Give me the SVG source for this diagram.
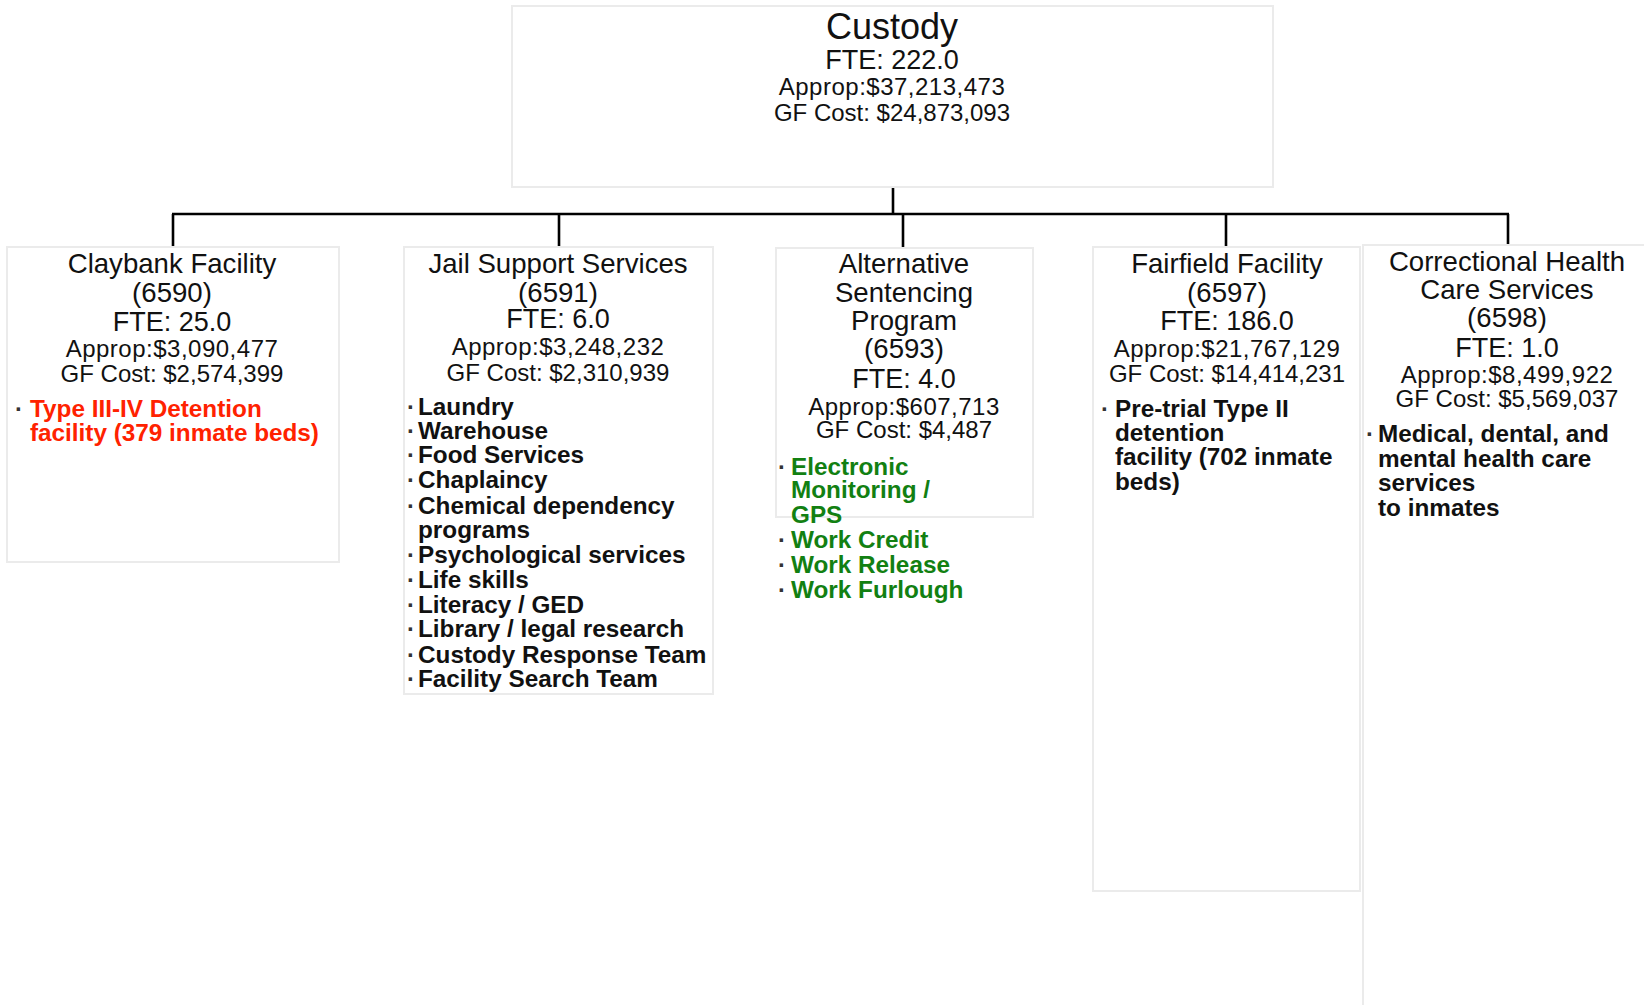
<svg xmlns="http://www.w3.org/2000/svg" width="1644" height="1005" viewBox="0 0 1644 1005">
<style>
  text { font-family: "Liberation Sans", Arial, sans-serif; fill: #111; }
  .box { fill: #ffffff; stroke: #ebebeb; stroke-width: 2; }
  .hd { font-size: 27.6px; text-anchor: middle; }
  .fte { font-size: 27px; text-anchor: middle; }
  .title { font-size: 36px; text-anchor: middle; }
  .money { font-size: 24px; text-anchor: middle; }
  .ap { letter-spacing: 0.5px; }
  .item { font-size: 24.3px; font-weight: bold; }
  .dot { font-size: 24px; font-weight: bold; fill: #333; }
  .red { fill: #ff2200; }
  .green { fill: #128012; }
  .conn { stroke: #000; stroke-width: 2.6; fill: none; }
</style>
<rect width="1644" height="1005" fill="#ffffff"/>

<g id="connectors">
  <line class="conn" x1="893" y1="186" x2="893" y2="214"/>
  <line class="conn" x1="172" y1="214" x2="1509" y2="214"/>
  <line class="conn" x1="173" y1="214" x2="173" y2="247"/>
  <line class="conn" x1="559" y1="214" x2="559" y2="247"/>
  <line class="conn" x1="903" y1="214" x2="903" y2="248"/>
  <line class="conn" x1="1226" y1="214" x2="1226" y2="247"/>
  <line class="conn" x1="1508" y1="214" x2="1508" y2="245"/>
</g>

<g id="custody">
  <rect class="box" x="512" y="6" width="761" height="181"/>
  <text class="title" x="892" y="39">Custody</text>
  <text class="fte" x="892" y="69">FTE: 222.0</text>
  <text class="money ap" x="892" y="95">Approp:$37,213,473</text>
  <text class="money" x="892" y="121">GF Cost: $24,873,093</text>
</g>

<g id="claybank">
  <rect class="box" x="7" y="247" width="332" height="315"/>
  <text class="hd" x="172" y="273">Claybank Facility</text>
  <text class="hd" x="172" y="302">(6590)</text>
  <text class="fte" x="172" y="331">FTE: 25.0</text>
  <text class="money ap" x="172" y="357">Approp:$3,090,477</text>
  <text class="money" x="172" y="382">GF Cost: $2,574,399</text>
  <text class="dot" x="15" y="417">·</text>
  <text class="item red" x="30" y="417">Type III-IV Detention</text>
  <text class="item red" x="30" y="441">facility (379 inmate beds)</text>
</g>

<g id="jail-support">
  <rect class="box" x="404" y="247" width="309" height="447"/>
  <text class="hd" x="558" y="273">Jail Support Services</text>
  <text class="hd" x="558" y="302">(6591)</text>
  <text class="fte" x="558" y="328">FTE: 6.0</text>
  <text class="money ap" x="558" y="355">Approp:$3,248,232</text>
  <text class="money" x="558" y="381">GF Cost: $2,310,939</text>
  <text class="dot" x="407" y="415">·</text><text class="item" x="418" y="415">Laundry</text>
  <text class="dot" x="407" y="439">·</text><text class="item" x="418" y="439">Warehouse</text>
  <text class="dot" x="407" y="463">·</text><text class="item" x="418" y="463">Food Services</text>
  <text class="dot" x="407" y="488">·</text><text class="item" x="418" y="488">Chaplaincy</text>
  <text class="dot" x="407" y="514">·</text><text class="item" x="418" y="514">Chemical dependency</text>
  <text class="item" x="418" y="538">programs</text>
  <text class="dot" x="407" y="563">·</text><text class="item" x="418" y="563">Psychological services</text>
  <text class="dot" x="407" y="588">·</text><text class="item" x="418" y="588">Life skills</text>
  <text class="dot" x="407" y="613">·</text><text class="item" x="418" y="613">Literacy / GED</text>
  <text class="dot" x="407" y="637">·</text><text class="item" x="418" y="637">Library / legal research</text>
  <text class="dot" x="407" y="663">·</text><text class="item" x="418" y="663">Custody Response Team</text>
  <text class="dot" x="407" y="687">·</text><text class="item" x="418" y="687">Facility Search Team</text>
</g>

<g id="alternative-sentencing">
  <rect class="box" x="776" y="248" width="257" height="269"/>
  <text class="hd" x="904" y="273">Alternative</text>
  <text class="hd" x="904" y="302">Sentencing</text>
  <text class="hd" x="904" y="330">Program</text>
  <text class="hd" x="904" y="358">(6593)</text>
  <text class="fte" x="904" y="388">FTE: 4.0</text>
  <text class="money ap" x="904" y="415">Approp:$607,713</text>
  <text class="money" x="904" y="438">GF Cost: $4,487</text>
  <text class="dot" x="778" y="475">·</text><text class="item green" x="791" y="475">Electronic</text>
  <text class="item green" x="791" y="498">Monitoring /</text>
  <text class="item green" x="791" y="523">GPS</text>
  <text class="dot" x="778" y="548">·</text><text class="item green" x="791" y="548">Work Credit</text>
  <text class="dot" x="778" y="573">·</text><text class="item green" x="791" y="573">Work Release</text>
  <text class="dot" x="778" y="598">·</text><text class="item green" x="791" y="598">Work Furlough</text>
</g>

<g id="fairfield">
  <rect class="box" x="1093" y="247" width="267" height="644"/>
  <text class="hd" x="1227" y="273">Fairfield Facility</text>
  <text class="hd" x="1227" y="302">(6597)</text>
  <text class="fte" x="1227" y="330">FTE: 186.0</text>
  <text class="money ap" x="1227" y="357">Approp:$21,767,129</text>
  <text class="money" x="1227" y="382">GF Cost: $14,414,231</text>
  <text class="dot" x="1101" y="417">·</text><text class="item" x="1115" y="417">Pre-trial Type II</text>
  <text class="item" x="1115" y="441">detention</text>
  <text class="item" x="1115" y="465">facility (702 inmate</text>
  <text class="item" x="1115" y="490">beds)</text>
</g>

<g id="correctional-health">
  <rect class="box" x="1363" y="245" width="290" height="770"/>
  <text class="hd" x="1507" y="271">Correctional Health</text>
  <text class="hd" x="1507" y="299">Care Services</text>
  <text class="hd" x="1507" y="327">(6598)</text>
  <text class="fte" x="1507" y="357">FTE: 1.0</text>
  <text class="money ap" x="1507" y="383">Approp:$8,499,922</text>
  <text class="money" x="1507" y="407">GF Cost: $5,569,037</text>
  <text class="dot" x="1366" y="442">·</text><text class="item" x="1378" y="442">Medical, dental, and</text>
  <text class="item" x="1378" y="467">mental health care</text>
  <text class="item" x="1378" y="491">services</text>
  <text class="item" x="1378" y="516">to inmates</text>
</g>
</svg>
